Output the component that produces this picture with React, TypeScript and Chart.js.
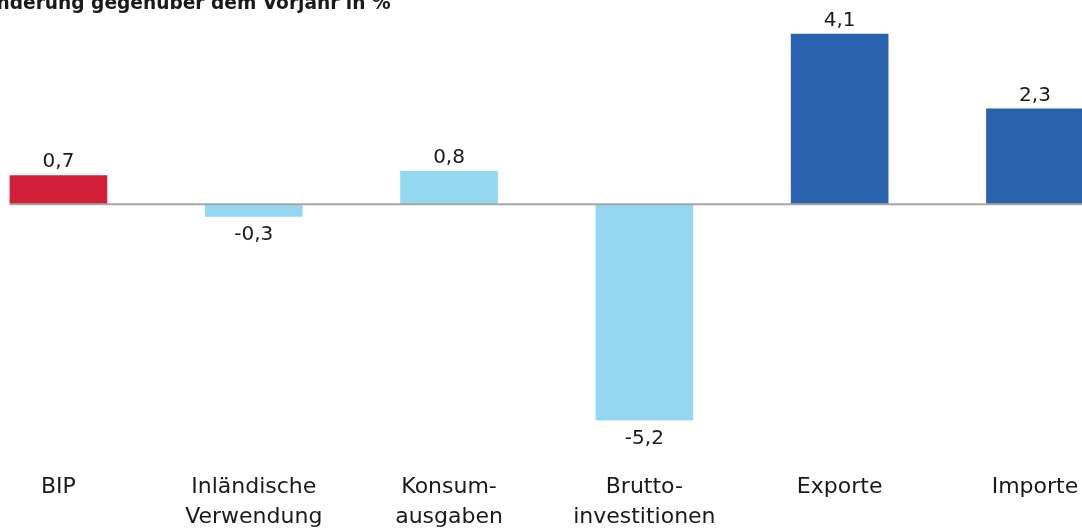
import { useEffect, useRef } from "react";
import { Chart, registerables } from "chart.js";

Chart.register(...registerables);

const titleText = "Veränderung gegenüber dem Vorjahr in %";
const categories: string[][] = [
  ["BIP"],
  ["Inländische", "Verwendung"],
  ["Konsum-", "ausgaben"],
  ["Brutto-", "investitionen"],
  ["Exporte"],
  ["Importe"],
];
const values = [0.7, -0.3, 0.8, -5.2, 4.1, 2.3];
const barColors = ["#d01f37", "#93d7f0", "#93d7f0", "#93d7f0", "#2a62ae", "#2a62ae"];
const yMin = -6.2;
const yMax = 4.6;

const fmt = (v: number) => v.toFixed(1).replace(".", ",");

const titlePlugin = {
  id: "cutTitle",
  afterDraw(chart: any) {
    const { ctx, chartArea } = chart;
    ctx.save();
    ctx.font = 'bold 18.6px "DejaVu Sans"';
    ctx.fillStyle = "#1a1a1a";
    ctx.textAlign = "left";
    ctx.textBaseline = "alphabetic";
    ctx.fillText(titleText, chartArea.left - 12, 9);
    ctx.restore();
  },
};

const zeroLinePlugin = {
  id: "zeroLine",
  afterDatasetsDraw(chart: any) {
    const { ctx } = chart;
    const meta = chart.getDatasetMeta(0);
    const first = meta.data[0];
    const last = meta.data[meta.data.length - 1];
    const y0 = chart.scales.y.getPixelForValue(0);
    ctx.save();
    ctx.strokeStyle = "#a6a6a6";
    ctx.lineWidth = 2;
    ctx.beginPath();
    ctx.moveTo(first.x - first.width / 2, y0);
    ctx.lineTo(last.x + last.width / 2, y0);
    ctx.stroke();
    ctx.restore();
  },
};

const valueLabelPlugin = {
  id: "valueLabels",
  afterDatasetsDraw(chart: any) {
    const { ctx } = chart;
    const meta = chart.getDatasetMeta(0);
    ctx.save();
    ctx.font = '20px "DejaVu Sans"';
    ctx.fillStyle = "#1a1a1a";
    ctx.textAlign = "center";
    meta.data.forEach((bar: any, i: number) => {
      const v = values[i];
      if (v >= 0) {
        ctx.textBaseline = "alphabetic";
        ctx.fillText(fmt(v), bar.x, bar.y - 8);
      } else {
        ctx.textBaseline = "top";
        ctx.fillText(fmt(v), bar.x, bar.y + 8);
      }
    });
    ctx.restore();
  },
};

export default function App() {
  const canvasRef = useRef<HTMLCanvasElement | null>(null);

  useEffect(() => {
    if (!canvasRef.current) return;
    const chart = new Chart(canvasRef.current, {
      type: "bar",
      data: {
        labels: categories,
        datasets: [
          {
            data: values,
            backgroundColor: barColors,
            borderWidth: 0,
            barPercentage: 0.5,
            categoryPercentage: 1,
          },
        ],
      },
      options: {
        animation: false,
        responsive: true,
        maintainAspectRatio: false,
        layout: { padding: { left: 20.8, right: 7.4, top: 13, bottom: 0 } },
        plugins: {
          legend: { display: false },
          title: { display: false },
          tooltip: { enabled: false },
        },
        scales: {
          x: {
            grid: { display: false },
            border: { display: false },
            ticks: {
              padding: 2,
              color: "#1a1a1a",
              autoSkip: false,
              maxRotation: 0,
              font: { family: "DejaVu Sans", size: 22, lineHeight: 30 / 22 },
            },
          },
          y: {
            display: false,
            min: yMin,
            max: yMax,
          },
        },
      },
      plugins: [zeroLinePlugin, valueLabelPlugin, titlePlugin],
    });
    return () => chart.destroy();
  }, []);

  return (
    <div
      style={{
        position: "fixed",
        left: 0,
        top: 0,
        width: 1082,
        height: 529,
        overflow: "hidden",
        background: "#ffffff",
      }}
    >
      <div style={{ position: "absolute", left: -60, top: 0, width: 1200, height: 534 }}>
        <canvas ref={canvasRef} />
      </div>
    </div>
  );
}
